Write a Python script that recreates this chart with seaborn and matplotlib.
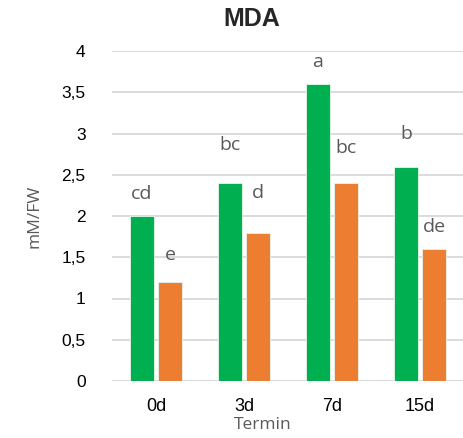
import pandas as pd
import numpy as np
import matplotlib
matplotlib.use('Agg')
import matplotlib.pyplot as plt
import seaborn as sns
from matplotlib.ticker import FuncFormatter

# data
termin = ['0d', '3d', '7d', '15d']
series = ['A', 'B']
green_vals = [2.0, 2.4, 3.6, 2.6]
orange_vals = [1.2, 1.8, 2.4, 1.6]
green_letters = ['cd', 'bc', 'a', 'b']
orange_letters = ['e', 'd', 'bc', 'de']
# how far above each bar the letter sits (data units)
green_offsets = [0.21, 0.40, 0.21, 0.33]
orange_offsets = [0.27, 0.42, 0.36, 0.21]

df = pd.DataFrame({
    'Termin': termin * 2,
    'grupa': [series[0]] * 4 + [series[1]] * 4,
    'MDA': green_vals + orange_vals,
})

sns.set_style('white')
plt.rcParams['font.family'] = ['Liberation Sans', 'DejaVu Sans']

fig = plt.figure(figsize=(4.64, 4.38), dpi=100)
ax = fig.add_axes([112 / 464, 1 - 381 / 438, 352 / 464, 330 / 438])

sns.barplot(data=df, x='Termin', y='MDA', hue='grupa', order=termin,
            hue_order=series, palette=['#00B050', '#ED7D31'], saturation=1,
            width=0.636, gap=0.13, edgecolor='#E8F5EC', linewidth=0.6,
            legend=False, ax=ax, zorder=3)

ax.set_ylim(0, 4)
ax.set_xlim(-0.5, 3.5)
ax.set_yticks(np.arange(0, 4.01, 0.5))
ax.yaxis.set_major_formatter(FuncFormatter(lambda v, p: ('%g' % v).replace('.', ',')))
ax.grid(axis='y', color='#D9D9D9', linewidth=1.3, zorder=0)
ax.set_axisbelow(True)
for s in ax.spines.values():
    s.set_visible(False)
ax.tick_params(axis='y', length=0, pad=19, labelsize=12.5, labelcolor='#000000')
ax.tick_params(axis='x', length=0, pad=12, labelsize=13, labelcolor='#000000')

# significance letters
for cont, letters, offs in zip(ax.containers, [green_letters, orange_letters],
                               [green_offsets, orange_offsets]):
    for bar, lab, off in zip(cont, letters, offs):
        ax.text(bar.get_x() + bar.get_width() / 2, bar.get_height() + off, lab,
                ha='center', va='baseline', fontsize=14, color='#595959',
                family=['Open Sans', 'DejaVu Sans'])

ax.set_xlabel('Termin', fontsize=12.5, color='#595959',
              family=['Open Sans', 'DejaVu Sans'], labelpad=0)
ax.xaxis.set_label_coords((263 - 112) / 352, -(417 - 381) / 330)
ax.set_ylabel('mM/FW', fontsize=12.5, color='#595959',
              family=['Open Sans', 'DejaVu Sans'])
ax.yaxis.set_label_coords(-(112 - 43) / 352, 0.5)

fig.text(252 / 464, 1 - 19 / 438, 'MDA', ha='center', va='center',
         fontsize=18, fontweight='bold')

fig.savefig('out.png', dpi=100)
